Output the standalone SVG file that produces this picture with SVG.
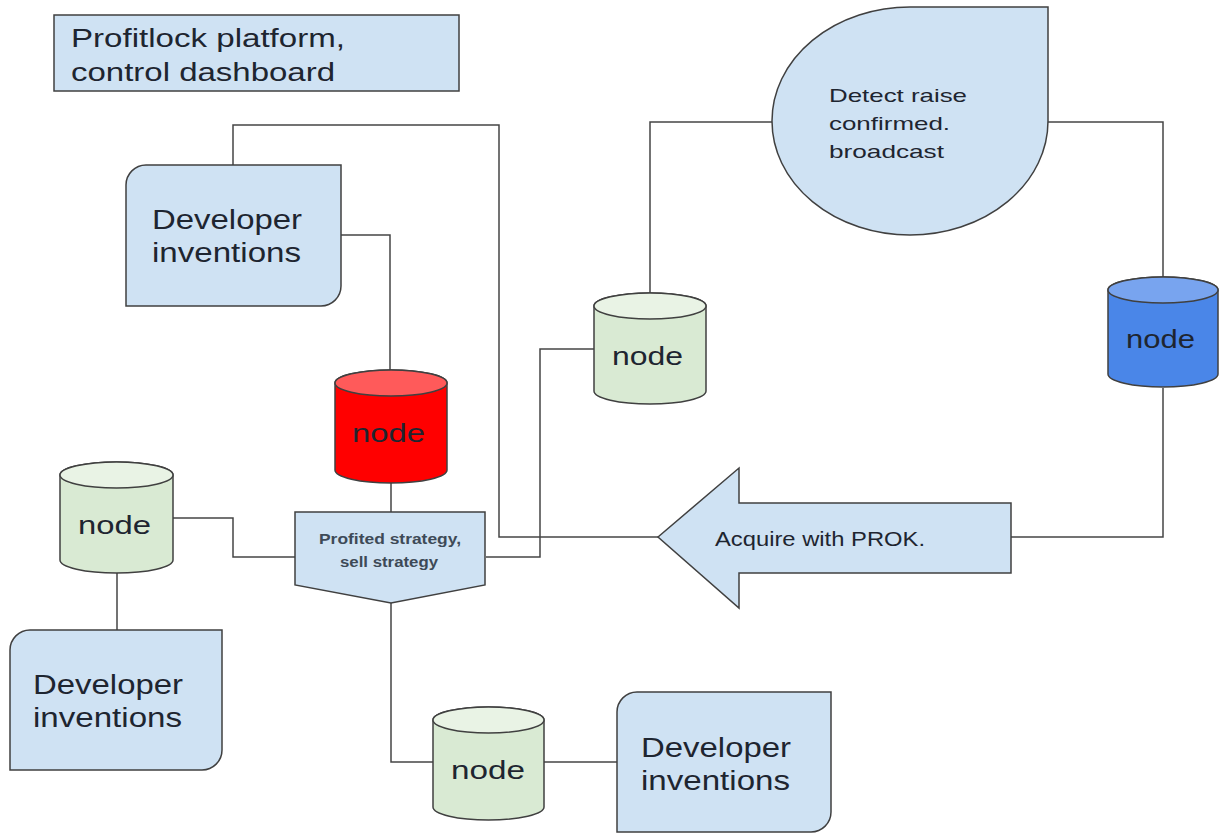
<svg xmlns="http://www.w3.org/2000/svg" width="1220" height="834" viewBox="0 0 1220 834">
<style>
.box{fill:#cfe2f3;stroke:#404040;stroke-width:1.5}
.conn{fill:none;stroke:#454545;stroke-width:1.5}
.cyl{stroke:#404040;stroke-width:1.5}
.t{font-family:"Liberation Sans",Arial,sans-serif;fill:#1e2530}
.small{fill:#3e4a57;font-weight:bold}
.green .body{fill:#d9ead3}.green .top{fill:#e9f3e5}
.red .body{fill:#ff0000}.red .top{fill:#ff5a5a}
.blue .body{fill:#4a86e8}.blue .top{fill:#78a4ef}
</style>
<rect width="1220" height="834" fill="#ffffff"/>
<g id="connectors">
<path class="conn" d="M233,165 V125 H499 V537 H658"/>
<path class="conn" d="M341,235 H390 V370"/>
<path class="conn" d="M391,483 V512"/>
<path class="conn" d="M486,557 H540 V349 H594"/>
<path class="conn" d="M650,293 V122 H772"/>
<path class="conn" d="M1048,122 H1163 V277"/>
<path class="conn" d="M1163,388 V537 H1011"/>
<path class="conn" d="M173,518 H233 V557 H295"/>
<path class="conn" d="M117,573 V630"/>
<path class="conn" d="M391,603 V762 H433"/>
<path class="conn" d="M544,762 H617"/>
</g>
<g id="title">
<rect class="box" x="54" y="15" width="405" height="76"/>
<text class="t" x="71" y="47" font-size="25" textLength="274" lengthAdjust="spacingAndGlyphs">Profitlock platform,</text>
<text class="t" x="71" y="81" font-size="25" textLength="264" lengthAdjust="spacingAndGlyphs">control dashboard</text>
</g>
<g id="dev1">
<path class="box" d="M146,165 H341 V286 A20,20 0 0 1 321,306 H126 V185 A20,20 0 0 1 146,165 Z"/>
<text class="t" x="152" y="229" font-size="27" textLength="150" lengthAdjust="spacingAndGlyphs">Developer</text>
<text class="t" x="152" y="262" font-size="27" textLength="149" lengthAdjust="spacingAndGlyphs">inventions</text>
</g>
<g id="dev2">
<path class="box" d="M30,630 H222 V750 A20,20 0 0 1 202,770 H10 V650 A20,20 0 0 1 30,630 Z"/>
<text class="t" x="33" y="694" font-size="27" textLength="150" lengthAdjust="spacingAndGlyphs">Developer</text>
<text class="t" x="33" y="727" font-size="27" textLength="149" lengthAdjust="spacingAndGlyphs">inventions</text>
</g>
<g id="dev3">
<path class="box" d="M637,692 H831 V812 A20,20 0 0 1 811,832 H617 V712 A20,20 0 0 1 637,692 Z"/>
<text class="t" x="641" y="757" font-size="27" textLength="150" lengthAdjust="spacingAndGlyphs">Developer</text>
<text class="t" x="641" y="790" font-size="27" textLength="149" lengthAdjust="spacingAndGlyphs">inventions</text>
</g>
<g id="detect">
<path class="box" d="M910,7 H1048 V121 A138,114 0 1 1 910,7 Z"/>
<text class="t" x="829" y="102" font-size="19" textLength="138" lengthAdjust="spacingAndGlyphs">Detect raise</text>
<text class="t" x="829" y="130" font-size="19" textLength="121" lengthAdjust="spacingAndGlyphs">confirmed.</text>
<text class="t" x="829" y="158" font-size="19" textLength="115" lengthAdjust="spacingAndGlyphs">broadcast</text>
</g>
<g id="strategy">
<polygon class="box" points="295,512 485,512 485,585 391,603 295,585"/>
<text class="t small" x="319" y="544" font-size="14" textLength="142" lengthAdjust="spacingAndGlyphs">Profited strategy,</text>
<text class="t small" x="340" y="567" font-size="14" textLength="98" lengthAdjust="spacingAndGlyphs">sell strategy</text>
</g>
<g id="acquire">
<polygon class="box" points="658,537 739,468 739,503 1011,503 1011,573 739,573 739,608"/>
<text class="t" x="715" y="546" font-size="19.5" textLength="210" lengthAdjust="spacingAndGlyphs">Acquire with PROK.</text>
</g>
<g id="node-red" class="red">
<path class="cyl body" d="M335,383 V470 A56,13 0 0 0 447,470 V383 A56,13 0 0 0 335,383 Z"/>
<ellipse class="cyl top" cx="391" cy="383" rx="56" ry="13"/>
<text class="t" x="352" y="442" font-size="26" textLength="73" lengthAdjust="spacingAndGlyphs">node</text>
</g>
<g id="node-green-top" class="green">
<path class="cyl body" d="M594,306 V391 A56,13 0 0 0 706,391 V306 A56,13 0 0 0 594,306 Z"/>
<ellipse class="cyl top" cx="650" cy="306" rx="56" ry="13"/>
<text class="t" x="612" y="365" font-size="26" textLength="71" lengthAdjust="spacingAndGlyphs">node</text>
</g>
<g id="node-blue" class="blue">
<path class="cyl body" d="M1108,290 V374 A55,13 0 0 0 1218,374 V290 A55,13 0 0 0 1108,290 Z"/>
<ellipse class="cyl top" cx="1163" cy="290" rx="55" ry="13"/>
<text class="t" x="1126" y="348" font-size="26" textLength="69" lengthAdjust="spacingAndGlyphs">node</text>
</g>
<g id="node-green-left" class="green">
<path class="cyl body" d="M60,475 V560 A56.5,13 0 0 0 173,560 V475 A56.5,13 0 0 0 60,475 Z"/>
<ellipse class="cyl top" cx="116.5" cy="475" rx="56.5" ry="13"/>
<text class="t" x="78" y="534" font-size="26" textLength="73" lengthAdjust="spacingAndGlyphs">node</text>
</g>
<g id="node-green-bottom" class="green">
<path class="cyl body" d="M433,720 V807 A55.5,13 0 0 0 544,807 V720 A55.5,13 0 0 0 433,720 Z"/>
<ellipse class="cyl top" cx="488.5" cy="720" rx="55.5" ry="13"/>
<text class="t" x="451" y="779" font-size="26" textLength="74" lengthAdjust="spacingAndGlyphs">node</text>
</g>
</svg>
